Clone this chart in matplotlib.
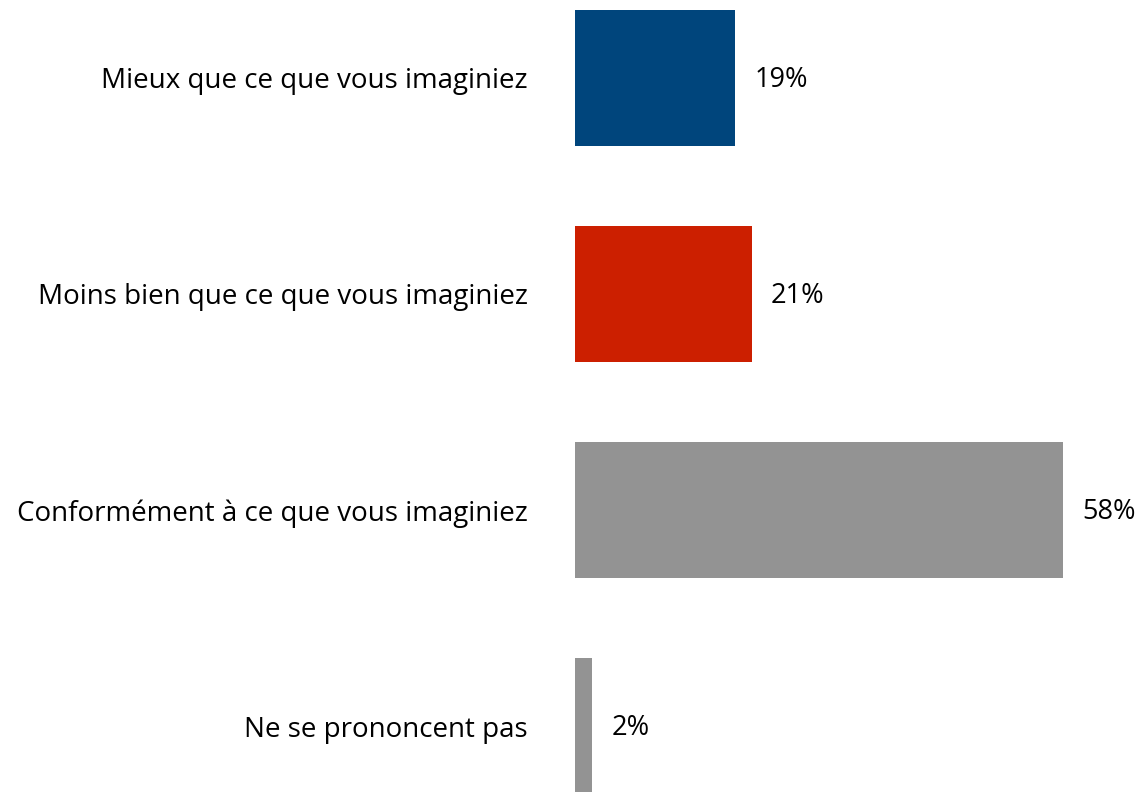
import matplotlib.pyplot as plt

categories = [
    "Mieux que ce que vous imaginiez",
    "Moins bien que ce que vous imaginiez",
    "Conformément à ce que vous imaginiez",
    "Ne se prononcent pas",
]
values = [19, 21, 58, 2]
colors = ["#00457C", "#CC1F00", "#939393", "#939393"]

plt.rcParams["font.family"] = ["Open Sans", "DejaVu Sans"]

fig = plt.figure(figsize=(11.45, 7.92), dpi=100)
fig.patch.set_facecolor("white")

# axes start at the bars' left edge, full height
ax = fig.add_axes([575 / 1145, 0, 570 / 1145, 1])
ypos = list(range(len(categories)))
ax.barh(ypos, values, height=0.63, color=colors)

ax.set_xlim(0, 570 / 8.41)
ax.set_ylim((792 - 78) / 216, -78 / 216)

for y, v in zip(ypos, values):
    ax.text(v + 2.3, y + 0.01, f"{v}%", va="center", ha="left", fontsize=19.5, color="black")

ax.set_yticks(ypos)
ax.set_yticklabels(categories, fontsize=20, color="black")
ax.tick_params(axis="y", length=0, pad=34)
ax.set_xticks([])
for spine in ax.spines.values():
    spine.set_visible(False)

fig.savefig("out.png", dpi=100)
